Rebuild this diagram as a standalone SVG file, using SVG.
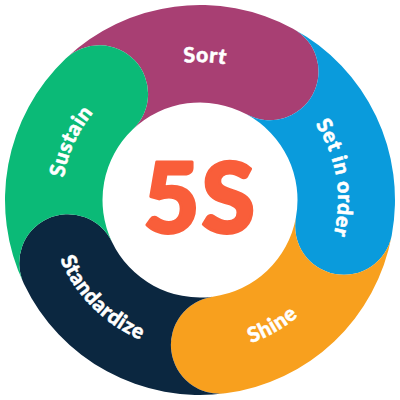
<svg xmlns="http://www.w3.org/2000/svg" xmlns:xlink="http://www.w3.org/1999/xlink" width="400" height="400" viewBox="0 0 400 400">
  <style>
    .lbl { font-family: Lato, "Noto Sans", "Liberation Sans", sans-serif; font-weight: 900; font-size: 21px; letter-spacing: 0.6px; fill: #ffffff; stroke: #ffffff; stroke-width: 0.5px; }
    .title { font-family: Lato, "Noto Sans", "Liberation Sans", sans-serif; font-weight: 900; font-size: 97px; letter-spacing: 2px; fill: #F95E3A; stroke: #F95E3A; stroke-width: 3px; stroke-linejoin: round; }
  </style>
  <defs>
    <path id="p-sort" d="M72.05,148.30 A138,138 0 0 1 331.25,157.36"/>
    <path id="p-set" d="M225.62,64.40 A138,138 0 0 1 267.53,320.35"/>
    <path id="p-shine" d="M102.30,316.44 A152,152 0 0 0 349.69,173.61"/>
    <path id="p-std" d="M62.24,135.76 A152,152 0 0 0 264.24,337.76"/>
    <path id="p-sus" d="M103.45,298.60 A138,138 0 0 1 210.59,62.41"/>
  </defs>
  <rect width="400" height="400" fill="#ffffff"/>
  <g id="sort">
    <path fill="#A83F73" d="M65.77,58.55 A195,195 0 0 1 293.05,28.63 A48.75,48.75 0 0 1 246.52,114.32 A97.5,97.5 0 0 0 132.89,129.28 A48.75,48.75 0 0 0 65.77,58.55Z"/>
    <text class="lbl"><textPath xlink:href="#p-sort" href="#p-sort" startOffset="50%" text-anchor="middle">Sort</textPath></text>
  </g>
  <g id="set-in-order">
    <path fill="#0A9BDC" d="M293.05,28.63 A195,195 0 0 1 391.73,235.54 A48.75,48.75 0 0 1 295.87,217.77 A97.5,97.5 0 0 0 246.52,114.32 A48.75,48.75 0 0 0 293.05,28.63Z"/>
    <text class="lbl"><textPath xlink:href="#p-set" href="#p-set" startOffset="50%" text-anchor="middle">Set in order</textPath></text>
  </g>
  <g id="shine">
    <path fill="#F8A01E" d="M391.73,235.54 A195,195 0 0 1 225.45,393.33 A48.75,48.75 0 0 1 212.73,296.67 A97.5,97.5 0 0 0 295.87,217.77 A48.75,48.75 0 0 0 391.73,235.54Z"/>
    <text class="lbl"><textPath xlink:href="#p-shine" href="#p-shine" startOffset="50%" text-anchor="middle">Shine</textPath></text>
  </g>
  <g id="standardize">
    <path fill="#0B2740" d="M225.45,393.33 A195,195 0 0 1 24.00,283.95 A48.75,48.75 0 0 1 112.00,241.97 A97.5,97.5 0 0 0 212.73,296.67 A48.75,48.75 0 0 0 225.45,393.33Z"/>
    <text class="lbl"><textPath xlink:href="#p-std" href="#p-std" startOffset="50%" text-anchor="middle">Standardize</textPath></text>
  </g>
  <g id="sustain">
    <path fill="#0BBA77" d="M24.00,283.95 A195,195 0 0 1 65.77,58.55 A48.75,48.75 0 0 1 132.89,129.28 A97.5,97.5 0 0 0 112.00,241.97 A48.75,48.75 0 0 0 24.00,283.95Z"/>
    <text class="lbl"><textPath xlink:href="#p-sus" href="#p-sus" startOffset="50%" text-anchor="middle">Sustain</textPath></text>
  </g>
  <g id="center">
    <text class="title" x="200" y="233" text-anchor="middle">5S</text>
  </g>
</svg>
